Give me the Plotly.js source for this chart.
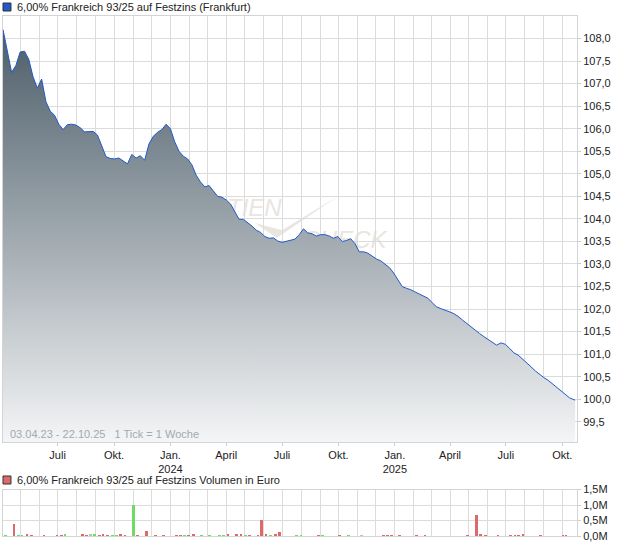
<!DOCTYPE html>
<html>
<head>
<meta charset="utf-8">
<script src="https://cdn.plot.ly/plotly-3.0.1.min.js"></script>
<style>
html,body{margin:0;padding:0;background:#fff;}
#chart{width:620px;height:546px;}
</style>
</head>
<body>
<div id="chart"></div>
<script>
// ---- price data (weekly) ----
var priceDates = [
'2023-04-03','2023-04-10','2023-04-17','2023-04-24','2023-05-01','2023-05-08','2023-05-15','2023-05-22','2023-05-29','2023-06-05',
'2023-06-12','2023-06-19','2023-06-26','2023-07-03','2023-07-10','2023-07-17','2023-07-24','2023-07-31','2023-08-07','2023-08-14',
'2023-08-21','2023-08-28','2023-09-04','2023-09-11','2023-09-18','2023-09-25','2023-10-02','2023-10-09','2023-10-16','2023-10-23',
'2023-10-30','2023-11-06','2023-11-13','2023-11-20','2023-11-27','2023-12-04','2023-12-11','2023-12-18','2023-12-25',
'2024-01-01','2024-01-08','2024-01-15','2024-01-22','2024-01-29','2024-02-05','2024-02-12','2024-02-19','2024-02-26','2024-03-04',
'2024-03-11','2024-03-18','2024-03-25','2024-04-01','2024-04-08','2024-04-15','2024-04-22','2024-04-29','2024-05-06','2024-05-13',
'2024-05-20','2024-05-27','2024-06-03','2024-06-10','2024-06-17','2024-06-24','2024-07-01','2024-07-08','2024-07-15','2024-07-22',
'2024-07-29','2024-08-05','2024-08-12','2024-08-19','2024-08-26','2024-09-02','2024-09-09','2024-09-16','2024-09-23','2024-09-30',
'2024-10-07','2024-10-14','2024-10-21','2024-10-28','2024-11-04','2024-11-11','2024-11-18','2024-11-25','2024-12-02','2024-12-09',
'2024-12-16','2024-12-23','2024-12-30',
'2025-01-06','2025-01-13','2025-01-20','2025-01-27','2025-02-03','2025-02-10','2025-02-17','2025-02-24','2025-03-03','2025-03-10',
'2025-03-17','2025-03-24','2025-03-31','2025-04-07','2025-04-14','2025-04-21','2025-04-28','2025-05-05','2025-05-12','2025-05-19',
'2025-05-26','2025-06-02','2025-06-09','2025-06-16','2025-06-23','2025-06-30','2025-07-07','2025-07-14','2025-07-21','2025-07-28',
'2025-08-04','2025-08-11','2025-08-18','2025-08-25','2025-09-01','2025-09-08','2025-09-15','2025-09-22','2025-09-29','2025-10-06',
'2025-10-13','2025-10-20','2025-10-22'
];
var priceValues = [
108.20,107.75,107.25,107.40,107.70,107.72,107.54,107.15,106.90,107.10,
106.60,106.39,106.30,106.10,105.98,106.09,106.10,106.08,106.02,105.93,
105.93,105.94,105.86,105.60,105.38,105.34,105.33,105.35,105.28,105.22,
105.43,105.35,105.40,105.30,105.66,105.83,105.92,105.98,106.10,
106.00,105.71,105.50,105.39,105.33,105.20,104.97,104.82,104.71,104.74,
104.63,104.50,104.48,104.42,104.33,104.17,103.99,103.99,103.92,103.84,
103.75,103.70,103.61,103.57,103.58,103.51,103.48,103.50,103.53,103.55,
103.65,103.78,103.69,103.67,103.62,103.65,103.65,103.62,103.57,103.61,
103.50,103.52,103.56,103.45,103.27,103.27,103.24,103.18,103.11,103.07,
103.00,102.92,102.80,
102.66,102.50,102.46,102.43,102.38,102.33,102.29,102.24,102.14,102.05,
102.01,101.98,101.94,101.90,101.84,101.76,101.68,101.60,101.52,101.46,
101.39,101.33,101.26,101.20,101.25,101.22,101.13,101.03,100.98,100.90,
100.80,100.72,100.63,100.55,100.48,100.42,100.34,100.26,100.18,100.10,
100.03,99.99,99.98
];

// ---- volume data ----
var volDates = [
'2023-04-07','2023-04-21','2023-04-28','2023-05-04','2023-05-12','2023-05-19','2023-06-09','2023-06-30','2023-07-07','2023-07-13',
'2023-08-11','2023-08-17','2023-08-24','2023-08-30','2023-09-07','2023-09-13','2023-09-20','2023-09-29','2023-10-05','2023-10-12',
'2023-10-19','2023-11-02','2023-11-08','2023-11-23','2023-12-08','2023-12-21','2024-01-11','2024-01-17','2024-01-24','2024-01-31',
'2024-02-08','2024-02-21','2024-03-05','2024-03-21','2024-03-28','2024-04-04','2024-04-18','2024-04-25','2024-05-03','2024-05-09',
'2024-05-23','2024-05-29','2024-06-05','2024-06-12','2024-06-20','2024-06-27','2024-07-25','2024-08-01','2024-08-30','2024-09-05',
'2024-10-03','2024-10-17','2024-11-07','2024-12-13','2024-12-20','2024-12-27','2025-01-09','2025-02-05','2025-02-19','2025-04-30',
'2025-05-14','2025-05-21','2025-05-29','2025-06-18','2025-07-09','2025-07-16','2025-07-22','2025-07-29','2025-08-27','2025-10-02',
'2025-10-07'
];
var volValues = [
35000,390000,35000,35000,65000,35000,35000,35000,35000,50000,
50000,35000,50000,50000,35000,50000,35000,35000,35000,50000,
35000,1000000,35000,170000,35000,35000,35000,35000,35000,35000,
50000,35000,35000,35000,35000,50000,50000,50000,35000,35000,
35000,520000,50000,35000,50000,130000,35000,35000,35000,35000,
35000,35000,35000,35000,35000,35000,35000,35000,35000,35000,
680000,50000,35000,35000,35000,35000,35000,70000,35000,35000,
35000
];
var volDir = [
'g','r','g','g','r','r','r','r','r','g',
'r','r','n','g','r','r','r','g','g','r',
'r','g','r','r','r','r','r','r','g','r',
'r','g','g','g','g','r','r','r','g','r',
'r','r','r','g','r','r','g','g','r','g',
'r','g','n','r','r','r','r','r','r','r',
'r','r','r','r','r','r','r','r','r','r',
'r'
];

var yTicks = [99.5,100,100.5,101,101.5,102,102.5,103,103.5,104,104.5,105,105.5,106,106.5,107,107.5,108];
var xTickVals = ['2023-07-01','2023-10-01','2024-01-01','2024-04-01','2024-07-01','2024-10-01','2025-01-01','2025-04-01','2025-07-01','2025-10-01'];
var xTickText = ['Juli','Okt.','Jan.<br>2024','April','Juli','Okt.','Jan.<br>2025','April','Juli','Okt.'];
var volTicks = [0,500000,1000000,1500000];
var volTickText = ['0,0M','0,5M','1,0M','1,5M'];

var titleMain = '6,00% Frankreich 93/25 auf Festzins (Frankfurt)';
var titleVol = '6,00% Frankreich 93/25 auf Festzins Volumen in Euro';
var footNote = '03.04.23 - 22.10.25\u00a0\u00a0\u00a01 Tick = 1 Woche';

var colMap = {r:'#dc6a6a', g:'#6cdc62', n:'#c0c0c0'};
var volColors = volDir.map(function(d){return colMap[d];});

var FONT = 'Liberation Sans, Arial, sans-serif';
var GRID = '#dcdcdc';
var WM = '#e9e5e0';

var traces = [
  {
    x: priceDates, y: priceValues, type:'scatter', mode:'lines',
    line:{color:'#2358c8', width:1},
    fill:'tozeroy',
    fillgradient:{type:'vertical', start:99.05, stop:108.2,
      colorscale:[[0,'#f4f5f6'],[1,'#4c5d69']]},
    xaxis:'x', yaxis:'y', hoverinfo:'skip'
  },
  {
    x: volDates, y: volValues, type:'bar',
    marker:{color: volColors, line:{width:0}},
    width: 4.5*86400000,
    textposition:'none',
    xaxis:'x2', yaxis:'y2', hoverinfo:'skip'
  }
];

var xRange = ['2023-04-03', '2025-10-25'];

var layout = {
  width:620, height:546,
  margin:{l:3, r:43, t:16, b:10, pad:0},
  paper_bgcolor:'#ffffff', plot_bgcolor:'#ffffff',
  showlegend:false,
  separators:',.',
  font:{family:FONT, size:11, color:'#222222'},
  bargap:0,
  xaxis:{
    domain:[0,1], anchor:'y', type:'date', range:xRange,
    tickvals:xTickVals, ticktext:xTickText,
    showgrid:true, gridcolor:GRID, gridwidth:1,
    minor:{dtick:'M1', tick0:'2023-01-01', showgrid:true, gridcolor:GRID, gridwidth:1, ticks:''},
    ticks:'outside', ticklen:3, tickcolor:'#cccccc',
    showline:true, linecolor:'#d4d4d4', linewidth:1, mirror:true,
    zeroline:false,
    tickfont:{family:FONT, size:11, color:'#222222'}
  },
  yaxis:{
    domain:[0.1808,1], anchor:'x', side:'right',
    range:[99.053, 108.499],
    tickvals:yTicks, tickformat:'.1f',
    showgrid:true, gridcolor:GRID, gridwidth:1,
    ticks:'outside', ticklen:3, tickcolor:'#cccccc',
    showline:true, linecolor:'#d4d4d4', linewidth:1, mirror:true,
    zeroline:false,
    tickfont:{family:FONT, size:11, color:'#222222'}
  },
  xaxis2:{
    domain:[0,1], anchor:'y2', type:'date', range:xRange, matches:'x',
    showticklabels:false,
    tickvals:xTickVals,
    showgrid:true, gridcolor:GRID, gridwidth:1,
    minor:{dtick:'M1', tick0:'2023-01-01', showgrid:true, gridcolor:GRID, gridwidth:1, ticks:''},
    ticks:'',
    showline:true, linecolor:'#d4d4d4', linewidth:1, mirror:true,
    zeroline:false
  },
  yaxis2:{
    domain:[0,0.0894], anchor:'x2', side:'right',
    range:[0,1500000],
    tickvals:volTicks, ticktext:volTickText,
    showgrid:true, gridcolor:GRID, gridwidth:1,
    ticks:'outside', ticklen:3, tickcolor:'#cccccc',
    showline:true, linecolor:'#d4d4d4', linewidth:1, mirror:true,
    zeroline:false,
    tickfont:{family:FONT, size:11, color:'#222222'}
  },
  annotations:[
    {text:titleMain, xref:'paper', yref:'paper', x:0.0209, y:1.0173, xanchor:'left', yanchor:'middle',
     showarrow:false, font:{family:FONT, size:11, color:'#222222'}},
    {text:titleVol, xref:'paper', yref:'paper', x:0.0209, y:0.1077, xanchor:'left', yanchor:'middle',
     showarrow:false, font:{family:FONT, size:11, color:'#222222'}},
    {text:footNote, xref:'paper', yref:'paper', x:0.0087, y:0.196, xanchor:'left', yanchor:'middle',
     showarrow:false, font:{family:FONT, size:11, color:'#a3a9b0'}}
  ],
  shapes:[
    {type:'rect', xref:'paper', yref:'paper', x0:0, x1:0.0139, y0:1.0096, y1:1.025,
     fillcolor:'#2358c8', line:{color:'#333333', width:1}},
    {type:'rect', xref:'paper', yref:'paper', x0:0, x1:0.0139, y0:0.1, y1:0.1154,
     fillcolor:'#dc6a6a', line:{color:'#333333', width:1}},
    {type:'rect', xref:'paper', yref:'paper', x0:0.33, x1:0.49, y0:0.605, y1:0.665, layer:'below',
     line:{width:0}, fillcolor:'rgba(0,0,0,0)',
     label:{text:'AKTIEN', font:{family:FONT, size:24, color:WM, style:'italic'}}},
    {type:'rect', xref:'paper', yref:'paper', x0:0.51, x1:0.68, y0:0.545, y1:0.605, layer:'below',
     line:{width:0}, fillcolor:'rgba(0,0,0,0)',
     label:{text:'CHECK', font:{family:FONT, size:24, color:WM, style:'italic'}}},
    {type:'path', xref:'paper', yref:'paper', layer:'below',
     path:'M 0.439 0.602 L 0.477 0.573 L 0.584 0.654 L 0.486 0.588 Z',
     fillcolor:WM, line:{width:0}}
  ]
};

Plotly.newPlot('chart', traces, layout, {staticPlot:true, displayModeBar:false});
</script>
</body>
</html>
